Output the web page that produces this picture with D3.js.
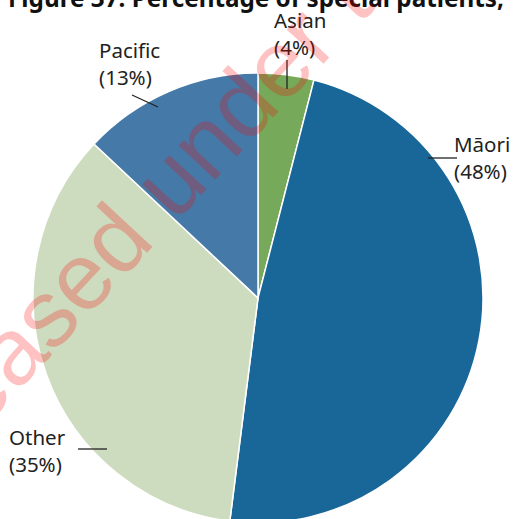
<!DOCTYPE html>
<html>
<head>
<meta charset="utf-8">
<script src="https://cdn.jsdelivr.net/npm/d3@7"></script>
<style>
  html, body { margin: 0; padding: 0; background: #fff; overflow: hidden; }
  svg { display: block; }
</style>
</head>
<body>
<svg id="chart" width="516" height="519"></svg>
<script>
// Ethnicity breakdown of special patients (percent), clockwise from 12 o'clock
const categories = ["Asian", "Māori", "Other", "Pacific"];
const values = [4, 48, 35, 13];
const colors = ["#77a95a", "#196699", "#cddcbf", "#4479a8"];
const titleText = "Figure 37: Percentage of special patients,";
const watermarkText = "Released under the Official Information Act 1982";

const cx = 258, cy = 298, R = 225;
const svg = d3.select("#chart");
const font = "'Noto Sans', 'Open Sans', sans-serif";

// Title (cropped at the top edge)
const title = svg.append("text")
  .attr("x", 8).attr("y", 7)
  .attr("font-family", font)
  .attr("font-weight", "bold")
  .attr("font-size", 100)
  .attr("fill", "#111")
  .text(titleText);
const tw = title.node().getComputedTextLength();
title.attr("font-size", 100 * 496 / tw);

// Pie
const pie = d3.pie().sort(null).value(d => d.value)
  .startAngle(0).endAngle(2 * Math.PI);
const data = categories.map((c, i) => ({ cat: c, value: values[i], color: colors[i] }));
const arcs = pie(data);
const arc = d3.arc().innerRadius(0).outerRadius(R);

svg.append("g").attr("transform", `translate(${cx},${cy})`)
  .selectAll("path.slice")
  .data(arcs)
  .join("path")
  .attr("class", "slice")
  .attr("d", arc)
  .attr("fill", d => d.data.color)
  .attr("stroke", "#fff")
  .attr("stroke-width", 1.5);

// Callout placement: leader line ends and the two-line text block's left edge / first baseline
const calloutLayout = {
  "Asian":   { line: [287, 60, 287, 89],   x: 274, y: 28 },
  "Māori":   { line: [428, 158, 457, 158], x: 454, y: 152 },
  "Other":   { line: [78, 449, 107, 449],  x: 9,   y: 445 },
  "Pacific": { line: [132, 95, 158, 107],  x: 99,  y: 58 }
};

const lab = svg.append("g");
arcs.forEach(a => {
  const L = calloutLayout[a.data.cat];
  lab.append("line")
    .attr("x1", L.line[0]).attr("y1", L.line[1])
    .attr("x2", L.line[2]).attr("y2", L.line[3])
    .attr("stroke", "#222").attr("stroke-width", 1.3);
  const t = lab.append("text")
    .attr("font-family", font)
    .attr("font-size", 20.5)
    .attr("fill", "#222");
  [a.data.cat, `(${a.data.value}%)`].forEach((s, i) => {
    t.append("tspan")
      .attr("x", L.x)
      .attr("y", L.y + i * 26.5)
      .text(s);
  });
});

// Diagonal watermark across the chart
svg.append("text")
  .attr("transform", "translate(-117,536) rotate(-47)")
  .attr("font-family", "'Liberation Sans', Arial, sans-serif")
  .attr("font-size", 95)
  .attr("fill", "rgba(255,0,0,0.24)")
  .text(watermarkText);
</script>
</body>
</html>
